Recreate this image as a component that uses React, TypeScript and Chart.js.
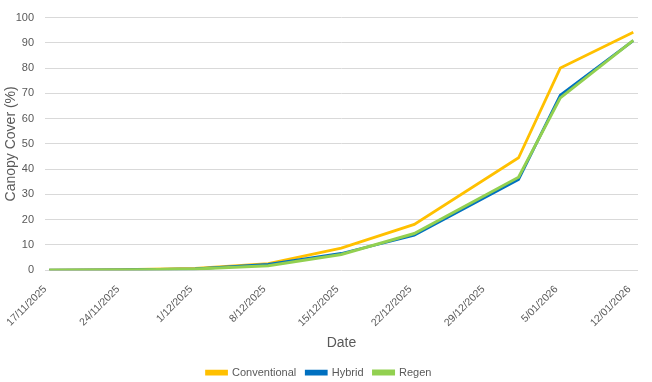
import React, { useEffect, useRef } from "react";
import { Chart, registerables } from "chart.js";

Chart.register(...registerables);

const dates = [
  "17/11/2025",
  "24/11/2025",
  "1/12/2025",
  "8/12/2025",
  "15/12/2025",
  "22/12/2025",
  "1/01/2026",
  "5/01/2026",
  "12/01/2026",
];
const conventional = [0, 0.2, 0.7, 2.6, 8.7, 18.1, 44.5, 80, 94.2];
const hybrid = [0, 0.1, 0.5, 2.3, 6.6, 13.8, 35.9, 69.3, 90.9];
const regen = [0, 0.1, 0.4, 1.7, 6.2, 14.5, 36.8, 68.2, 91];

const tickDates = [
  "17/11/2025",
  "24/11/2025",
  "1/12/2025",
  "8/12/2025",
  "15/12/2025",
  "22/12/2025",
  "29/12/2025",
  "5/01/2026",
  "12/01/2026",
];

const DAY = 86400000;
const toUTC = (s: string) => {
  const [d, m, y] = s.split("/").map(Number);
  return Date.UTC(y, m - 1, d);
};
const origin = toUTC(tickDates[0]);
const toDay = (s: string) => Math.round((toUTC(s) - origin) / DAY);
const xs = dates.map(toDay);
const tickXs = tickDates.map(toDay);

const font = "'Liberation Sans', Arial, sans-serif";
const grey = "#595959";

export default function App() {
  const ref = useRef<HTMLCanvasElement | null>(null);
  useEffect(() => {
    document.body.style.margin = "0";
    if (!ref.current) return;
    const mk = (vals: number[]) => vals.map((v, i) => ({ x: xs[i], y: v }));
    const chart = new Chart(ref.current, {
      type: "line",
      data: {
        datasets: [
          { label: "Conventional", data: mk(conventional), borderColor: "#FFC000", backgroundColor: "#FFC000", order: 3 },
          { label: "Hybrid", data: mk(hybrid), borderColor: "#0070C0", backgroundColor: "#0070C0", order: 2 },
          { label: "Regen", data: mk(regen), borderColor: "#92D050", backgroundColor: "#92D050", order: 1, borderWidth: 3 },
        ],
      },
      options: {
        animation: false,
        responsive: false,
        maintainAspectRatio: false,
        layout: { padding: { left: 0, right: 14, top: 5, bottom: -6 } },
        elements: {
          line: { borderWidth: 2.75, tension: 0 },
          point: { radius: 0, hoverRadius: 0 },
        },
        plugins: {
          tooltip: { enabled: false },
          legend: {
            position: "bottom",
            labels: {
              boxWidth: 20,
              boxHeight: 3,
              padding: 10,
              color: grey,
              font: { family: font, size: 11 },
              sort: (a: any, b: any) => a.datasetIndex - b.datasetIndex,
            },
          },
        },
        scales: {
          x: {
            type: "linear",
            min: tickXs[0] - 0.4,
            max: tickXs[tickXs.length - 1] + 0.45,
            grid: { display: false },
            border: { display: false },
            afterBuildTicks: (scale: any) => {
              scale.ticks = tickXs.map((v) => ({ value: v }));
            },
            afterFit: (scale: any) => {
              scale.paddingLeft = 0;
              scale.paddingRight = 0;
            },
            ticks: {
              autoSkip: false,
              maxRotation: 45,
              minRotation: 45,
              color: grey,
              font: { family: font, size: 10.5 },
              padding: 5,
              labelOffset: -4,
              callback: (v: any) => {
                const i = tickXs.indexOf(Math.round(Number(v)));
                return i >= 0 ? tickDates[i] : "";
              },
            },
            title: {
              display: true,
              text: "Date",
              color: grey,
              font: { family: font, size: 14 },
              padding: { top: 1, bottom: 5 },
            },
          },
          y: {
            min: 0,
            max: 100,
            grid: { color: "#d9d9d9", drawTicks: false },
            border: { display: false },
            afterFit: (scale: any) => {
              scale.width = 45;
            },
            ticks: {
              stepSize: 10,
              color: grey,
              font: { family: font, size: 11 },
              padding: 11,
            },
            title: {
              display: true,
              text: "Canopy Cover (%)",
              color: grey,
              font: { family: font, size: 14 },
              padding: { top: 3, bottom: 0 },
            },
          },
        },
      },
    });
    return () => chart.destroy();
  }, []);
  return (
    <div style={{ width: 652, height: 382 }}>
      <canvas ref={ref} width={652} height={382} style={{ width: 652, height: 382 }} />
    </div>
  );
}
